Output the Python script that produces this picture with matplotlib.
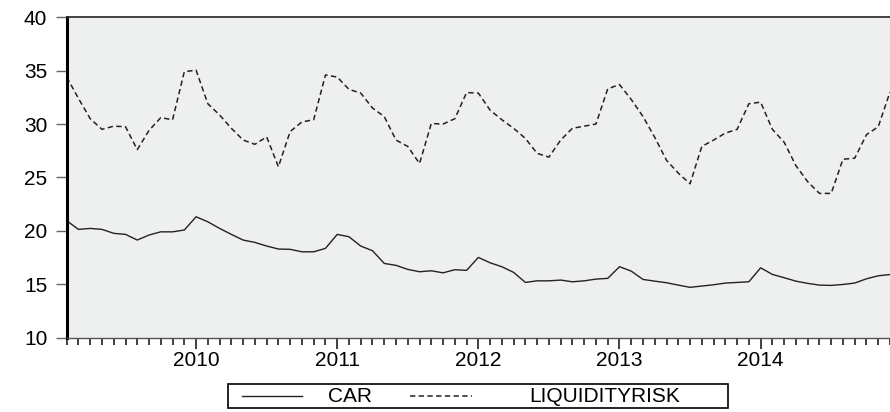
import numpy as np
import pandas as pd
import matplotlib
matplotlib.use('Agg')
import matplotlib.pyplot as plt
from matplotlib.lines import Line2D
from matplotlib.patches import Rectangle

# monthly series, Feb 2009 onwards (last point is cut by the right edge)
months = pd.period_range('2009-02', periods=71, freq='M')

car = [20.94, 20.13, 20.22, 20.13, 19.76, 19.66, 19.13, 19.6, 19.9, 19.9, 20.07, 21.31,
       20.84, 20.22, 19.66, 19.13, 18.91, 18.57, 18.29, 18.26, 18.03, 18.03, 18.35, 19.66,
       19.44, 18.57, 18.13, 16.94, 16.76, 16.38, 16.16, 16.25, 16.06, 16.35, 16.29, 17.5,
       17.0, 16.63, 16.1, 15.16, 15.31, 15.31, 15.38, 15.22, 15.31, 15.47, 15.54, 16.63,
       16.22, 15.44, 15.28, 15.13, 14.91, 14.7, 14.82, 14.94, 15.1, 15.16, 15.22, 16.53,
       15.91, 15.6, 15.28, 15.07, 14.91, 14.88, 14.97, 15.1, 15.5, 15.78, 15.9]

liquidityrisk = [34.4, 32.4, 30.5, 29.5, 29.8, 29.75, 27.6, 29.4, 30.6, 30.4, 34.9, 35.05,
                 31.9, 30.85, 29.6, 28.5, 28.1, 28.8, 26.0, 29.3, 30.2, 30.4, 34.6, 34.4,
                 33.25, 32.9, 31.5, 30.7, 28.5, 27.9, 26.3, 30.05, 30.0, 30.5, 32.95, 32.9,
                 31.3, 30.4, 29.6, 28.65, 27.25, 26.9, 28.5, 29.6, 29.8, 30.0, 33.3, 33.7,
                 32.3, 30.7, 28.75, 26.6, 25.4, 24.4, 27.9, 28.5, 29.15, 29.5, 31.9, 32.05,
                 29.5, 28.3, 26.1, 24.6, 23.5, 23.5, 26.7, 26.8, 29.0, 29.75, 33.0]

yticks = [10, 15, 20, 25, 30, 35, 40]

plt.rcParams['font.family'] = ['Liberation Sans', 'DejaVu Sans']
W, H = 890, 412
fig = plt.figure(figsize=(W/100, H/100), dpi=100)
ax = fig.add_axes([66.7/W, 1-337.5/H, (W-66.7)/W, (337.5-17.3)/H])
ax.set_facecolor('#eef0ef')

x = np.arange(len(months))
ax.plot(x, car, color='#222222', lw=1.0)
ax.plot(x, liquidityrisk, color='#222222', lw=1.1, dashes=(3.5, 2.2))

ax.set_xlim(0, (W-66.7)/11.85)
ax.set_ylim(10, 40)
ax.set_yticks(yticks)
ax.set_yticklabels([str(v) for v in yticks], fontsize=15)

jan = [i for i, m in enumerate(months) if m.month == 1]
ax.set_xticks(jan)
ax.set_xticklabels([str(months[i].year) for i in jan], fontsize=15)
ax.set_xticks(x, minor=True)
ax.tick_params(axis='x', which='major', length=8, width=1.3, color='#333333', pad=2)
ax.tick_params(axis='x', which='minor', length=5, width=1.3, color='#333333')
ax.tick_params(axis='y', length=8, width=1.0, color='#666666', pad=6)

ax.spines['right'].set_visible(False)
ax.spines['left'].set_linewidth(2.2)
ax.spines['left'].set_color('black')
ax.spines['top'].set_linewidth(1.3)
ax.spines['top'].set_color('#333333')
ax.spines['bottom'].set_linewidth(1.0)
ax.spines['bottom'].set_color('#555555')

# legend drawn by hand, EViews style
def fx(px): return px / W
def fy(py): return 1 - py / H
fig.add_artist(Rectangle((fx(228), fy(408)), fx(728)-fx(228), fy(384)-fy(408),
                         transform=fig.transFigure, fill=False, lw=1.2, ec='black'))
fig.add_artist(Line2D([fx(242), fx(302)], [fy(396), fy(396)], transform=fig.transFigure,
                      color='#222222', lw=1.0))
fig.text(fx(350), fy(396), 'CAR', fontsize=15, va='center', ha='center')
fig.add_artist(Line2D([fx(410), fx(472)], [fy(396), fy(396)], transform=fig.transFigure,
                      color='#222222', lw=1.1, dashes=(3.5, 2.2)))
fig.text(fx(605), fy(396), 'LIQUIDITYRISK', fontsize=15, va='center', ha='center')

fig.savefig('out.png', dpi=100)
